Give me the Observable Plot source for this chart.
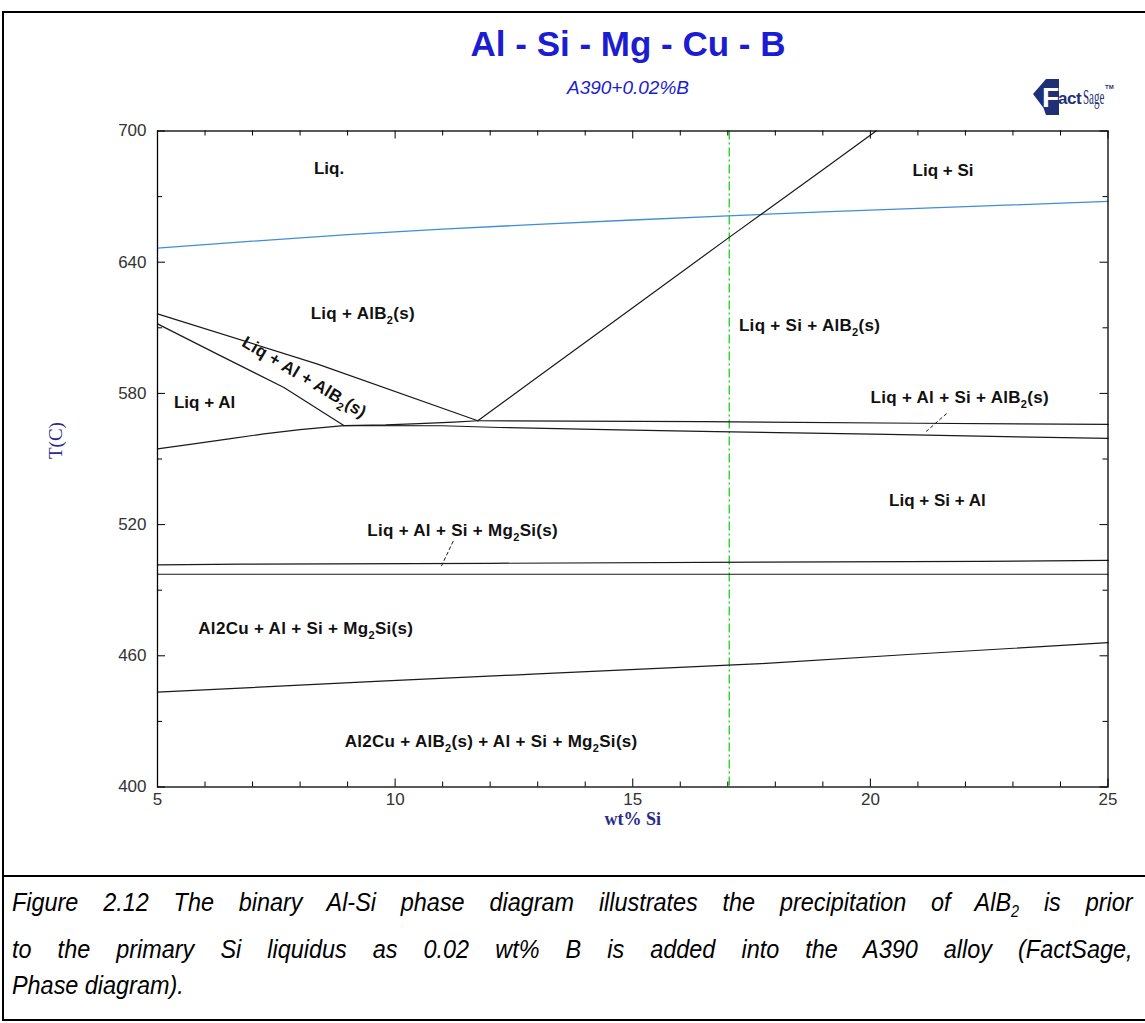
<!DOCTYPE html>
<html>
<head>
<meta charset="utf-8">
<script src="https://cdn.jsdelivr.net/npm/d3@7"></script>
<script src="https://cdn.jsdelivr.net/npm/@observablehq/plot@0.6"></script>
<style>
  body { margin: 0; background: #fff; }
  #fig { position: relative; width: 1145px; height: 1023px; background: #fff; overflow: hidden;
         font-family: Arial, "Liberation Sans", sans-serif; }
  #frame1 { position: absolute; left: 2px; top: 11px; width: 1160px; height: 862px; border: 2px solid #000; }
  #frame2 { position: absolute; left: 2px; top: 875px; width: 1160px; height: 144px; border: 2px solid #000; border-top: none; }
  #title { position: absolute; left: 628px; top: 24px; transform: translateX(-50%); white-space: nowrap;
           font-family: Arial, "Liberation Sans", sans-serif; font-size: 35px; font-weight: bold; color: #1c1cd0; }
  #subtitle { position: absolute; left: 628px; top: 77px; transform: translateX(-50%); white-space: nowrap;
              font-family: Arial, "Liberation Sans", sans-serif; font-size: 19px; font-style: italic; color: #1c1cd0; }
  #logo { position: absolute; left: 1033px; top: 78px; width: 75px; height: 40px; white-space: nowrap; color: #1f2f78; }
  #logo .badge { position: absolute; left: 0; top: 1px; width: 26px; height: 36px; background: #1f2f78;
                 clip-path: polygon(0 42%, 50% 0, 100% 0, 100% 100%, 50% 100%, 40% 80%); }
  #logo .badge span { position: absolute; left: 9px; top: 3px; color: #fff; font: bold 28px Arial, sans-serif; }
  #logo .act { position: absolute; left: 25px; top: 11px; font: bold 17px Arial, sans-serif; letter-spacing: -0.5px; }
  #logo .sage { position: absolute; left: 50px; top: 6px; font: 22px "Liberation Serif", "DejaVu Serif", serif;
                transform: scaleX(0.5); transform-origin: left; }
  #logo .tm { position: absolute; left: 72px; top: 6px; font: bold 6px Arial, sans-serif; }
  #chart { position: absolute; left: 0; top: 115px; }
  #caption { position: absolute; left: 12px; top: 884px; font-family: Arial, "Liberation Sans", sans-serif;
             font-style: italic; font-size: 26px; line-height: 36.5px; color: #000; }
  #caption div { width: 1245px; transform: scaleX(0.9); transform-origin: left; white-space: nowrap; }
  #caption .j { text-align: justify; text-align-last: justify; white-space: normal; }
  g[aria-label="x-axis tick label"] text, g[aria-label="y-axis tick label"] text {
    font-family: "Liberation Sans Narrow", "Arial Narrow", "Liberation Sans", sans-serif; font-size: 17px; fill: #333;
  }
</style>
</head>
<body>
<div id="fig">
  <div id="frame1"></div>
  <div id="frame2"></div>
  <div id="title">Al - Si - Mg - Cu - B</div>
  <div id="subtitle">A390+0.02%B</div>
  <div id="logo"><div class="badge"><span>F</span></div><span class="act">act</span><span class="sage">Sage</span><span class="tm">TM</span></div>
  <div id="chart"></div>
  <div id="caption">
    <div class="j">Figure 2.12 The binary Al-Si phase diagram illustrates the precipitation of AlB<sub style="font-size:16px">2</sub> is prior</div>
    <div class="j">to the primary Si liquidus as 0.02 wt% B is added into the A390 alloy (FactSage,</div>
    <div>Phase diagram).</div>
  </div>
</div>
<script>
// ---- axis ticks ----
const xTicks = [5, 10, 15, 20, 25];
const xMinorTicks = [6, 7, 8, 9, 11, 12, 13, 14, 16, 17, 18, 19, 21, 22, 23, 24];
const yTicks = [400, 460, 520, 580, 640, 700];
const yMinorTicks = [430, 490, 550, 610, 670];

// ---- alloy composition (A390, wt% Si) ----
const alloySi = [17.03];

// ---- phase boundaries: wt% Si and T(C) ----
const alb2LiquidusX = [5, 7, 9, 11, 13, 15, 17, 19, 21, 23, 25];
const alb2LiquidusT = [646.4, 649.6, 652.6, 655.1, 657.3, 659.3, 661.2, 663.0, 664.6, 666.2, 667.8];

const siLiquidusX = [11.74, 13, 15, 17, 19, 20.12];
const siLiquidusT = [567.5, 587.5, 619.2, 650.9, 682.3, 700];

const upperAlB2X = [5, 8.37, 11.74];
const upperAlB2T = [616.4, 593.4, 567.5];

const alLiquidusX = [5, 6.3, 7.66, 8.92];
const alLiquidusT = [611.8, 597.5, 582.7, 565.3];

const alSolidusX = [5, 5.8, 6.54, 7.24, 8.0, 8.92];
const alSolidusT = [554.6, 557.0, 559.3, 561.5, 563.4, 565.3];

const ternaryLineX = [8.92, 9.8, 10.5, 11.24, 11.74];
const ternaryLineT = [565.3, 565.6, 566.2, 566.9, 567.5];

const quatUpperX = [11.74, 16.5, 21, 25];
const quatUpperT = [567.5, 567.1, 566.35, 565.8];

const quatLowerX = [8.92, 11, 12.2, 14.7, 16.75, 18.72, 20.37, 22.28, 23.74, 25];
const quatLowerT = [565.3, 565.2, 564.4, 563.3, 562.5, 561.85, 561.25, 560.5, 559.85, 559.4];

const mg2siUpperX = [5, 6.8, 12, 17.7, 22.3, 25];
const mg2siUpperT = [501.6, 501.9, 502.3, 502.8, 503.2, 503.6];

const mg2siLowerX = [5, 25];
const mg2siLowerT = [497.3, 497.3];

const al2cuX = [5, 9.7, 13, 17.7, 20.79, 25];
const al2cuT = [443.4, 448.4, 451.7, 456.4, 460.6, 466.0];

// ---- dashed leader lines ----
const leader1X = [21.6, 21.18];
const leader1T = [570.7, 562.7];
const leader2X = [11.22, 10.96];
const leader2T = [512.3, 500.4];

// ---- region labels ----
const labelText = ["Liq.", "Liq + Si", "Liq + AlB_2(s)", "Liq + Si + AlB_2(s)", "Liq + Al",
  "Liq + Al + Si + AlB_2(s)", "Liq + Si + Al", "Liq + Al + Si + Mg_2Si(s)",
  "Al2Cu + Al + Si + Mg_2Si(s)", "Al2Cu + AlB_2(s) + Al + Si + Mg_2Si(s)"];
const labelX = [8.61, 21.53, 9.32, 18.72, 5.99, 21.88, 21.41, 11.42, 8.12, 12.02];
const labelT = [682.9, 681.9, 616.3, 611.1, 576.0, 578.3, 531.0, 517.2, 472.4, 420.8];

const slantText = ["Liq + Al + AlB_2(s)"];
const slantX = [8.09];
const slantT = [587.4];

// ---- build tables ----
function rows(id, xs, ts) { return xs.map((x, i) => ({id, x, T: ts[i]})); }
const blackRows = [
  ...rows("siLiq", siLiquidusX, siLiquidusT),
  ...rows("upperAlB2", upperAlB2X, upperAlB2T),
  ...rows("alLiq", alLiquidusX, alLiquidusT),
  ...rows("alSol", alSolidusX, alSolidusT),
  ...rows("tern", ternaryLineX, ternaryLineT),
  ...rows("qU", quatUpperX, quatUpperT),
  ...rows("qL", quatLowerX, quatLowerT),
  ...rows("mU", mg2siUpperX, mg2siUpperT),
  ...rows("mL", mg2siLowerX, mg2siLowerT),
  ...rows("cu", al2cuX, al2cuT)
];
const blueRows = rows("alb2", alb2LiquidusX, alb2LiquidusT);
const leaderRows = [...rows("l1", leader1X, leader1T), ...rows("l2", leader2X, leader2T)];
const labels = labelText.map((t, i) => ({t, x: labelX[i], T: labelT[i]}));
const slant = slantText.map((t, i) => ({t, x: slantX[i], T: slantT[i]}));

const W = 1145, H = 760;
const mL = 157, mR = 37.5, mT = 15.5, mB = 88.5;
const innerW = W - mL - mR, innerH = H - mT - mB;
const labelFont = "Arial, 'Liberation Sans', sans-serif";

const chart = Plot.plot({
  width: W, height: H,
  marginLeft: mL, marginRight: mR, marginTop: mT, marginBottom: mB,
  x: {domain: [5, 25], axis: null},
  y: {domain: [400, 700], axis: null},
  style: {background: "transparent", overflow: "visible", fontFamily: labelFont},
  marks: [
    Plot.ruleX(alloySi, {stroke: "#00d000", strokeWidth: 1.2, strokeDasharray: "9,3,2,3"}),
    Plot.line(blueRows, {x: "x", y: "T", stroke: "#3d8fd6", strokeWidth: 1.3}),
    Plot.line(blackRows, {x: "x", y: "T", z: "id", stroke: "#1a1a1a", strokeWidth: 1.2}),
    Plot.line(leaderRows, {x: "x", y: "T", z: "id", stroke: "#1a1a1a", strokeWidth: 1, strokeDasharray: "3,3"}),
    Plot.frame({stroke: "#000", strokeWidth: 1.3}),
    // inward ticks
    Plot.ruleX(xTicks, {insetTop: innerH - 8, stroke: "#000"}),
    Plot.ruleX(xMinorTicks, {insetTop: innerH - 5, stroke: "#000"}),
    Plot.ruleX(xTicks, {insetBottom: innerH - 8, stroke: "#000"}),
    Plot.ruleX(xMinorTicks, {insetBottom: innerH - 5, stroke: "#000"}),
    Plot.ruleY(yTicks, {insetRight: innerW - 8, stroke: "#000"}),
    Plot.ruleY(yMinorTicks, {insetRight: innerW - 5, stroke: "#000"}),
    Plot.ruleY(yTicks, {insetLeft: innerW - 8, stroke: "#000"}),
    Plot.ruleY(yMinorTicks, {insetLeft: innerW - 5, stroke: "#000"}),
    Plot.axisX({ticks: xTicks, tickSize: 0, tickPadding: 6, label: null, tickFormat: d => String(d)}),
    Plot.axisY({ticks: yTicks, tickSize: 0, tickPadding: 11, label: null, tickFormat: d => String(d)}),
    Plot.text(labels, {x: "x", y: "T", text: "t", fontSize: 17, fontWeight: "bold", fill: "#111"}),
    Plot.text(slant, {x: "x", y: "T", text: "t", fontSize: 17, fontWeight: "bold", fill: "#111", rotate: 31}),
    Plot.text(["T(C)"], {frameAnchor: "left", dx: -102, rotate: -90, text: d => d, fontSize: 19,
      fontFamily: "'Liberation Serif', 'Times New Roman', serif", fill: "#2a2a88"}),
    Plot.text(["wt% Si"], {frameAnchor: "bottom", dy: 38, text: d => d, fontSize: 18, fontWeight: "bold",
      fontFamily: "'Liberation Serif', 'Times New Roman', serif", fill: "#2a2a88"})
  ]
});

// subscripts: "_2" -> lowered small 2
const SVGNS = "http://www.w3.org/2000/svg";
chart.querySelectorAll("text").forEach(t => {
  const s = t.textContent;
  if (!s.includes("_2")) return;
  t.setAttribute("letter-spacing", "0.3");
  const parts = s.split("_2");
  t.textContent = "";
  parts.forEach((p, i) => {
    if (i === 0) { t.appendChild(document.createTextNode(p)); return; }
    const sub = document.createElementNS(SVGNS, "tspan");
    sub.setAttribute("dy", "5");
    sub.setAttribute("font-size", "11");
    sub.textContent = "2";
    t.appendChild(sub);
    const rest = document.createElementNS(SVGNS, "tspan");
    rest.setAttribute("dy", "-5");
    rest.textContent = p;
    t.appendChild(rest);
  });
});

document.getElementById("chart").appendChild(chart);
</script>
</body>
</html>
